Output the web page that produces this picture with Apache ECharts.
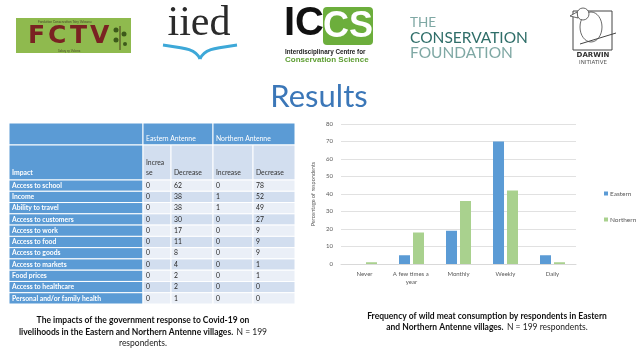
<!DOCTYPE html>
<html><head><meta charset="utf-8">
<script src="https://cdn.jsdelivr.net/npm/echarts@6/dist/echarts.min.js"></script>
<style>html,body{margin:0;padding:0;background:#fff}#c{width:638px;height:359px}</style>
</head><body><div id="c"></div>
<script>
// ---- Bar chart data ----
const categories = ['Never', 'A few times a year', 'Monthly', 'Weekly', 'Daily'];
const eastern = [0, 5, 19, 70, 5];
const northern = [1, 18, 36, 42, 1];
const seriesNames = ['Eastern', 'Northern'];

// ---- Table data ----
const impacts = ['Access to school', 'Income', 'Ability to travel', 'Access to customers', 'Access to work',
  'Access to food', 'Access to goods', 'Access to markets', 'Food prices', 'Access to healthcare',
  'Personal and/or family health'];
const eastIncrease = [0, 0, 0, 0, 0, 0, 0, 0, 0, 0, 0];
const eastDecrease = [62, 38, 38, 30, 17, 11, 8, 4, 2, 2, 1];
const northIncrease = [0, 1, 1, 0, 0, 0, 0, 0, 0, 0, 0];
const northDecrease = [78, 52, 49, 27, 9, 9, 9, 1, 1, 0, 0];
const groupHeaders = ['Eastern Antenne', 'Northern Antenne'];
const colHeaders = ['Impact', 'Increa\nse', 'Decrease', 'Increase', 'Decrease'];

// ---- layout constants ----
const FONT = 'Lato, "Liberation Sans", sans-serif';
const T_LEFT = 9, T_WIDTH = 286;
const colEdges = [0, 134, 162, 204, 244, 286];
const H1_TOP = 123, H1_H = 22, H2_TOP = 145, H2_H = 35;
const BODY_TOP = 180, BODY_H = 124;
const BLUE = '#5B9BD5', DARK = '#D2DEEF', LIGHT = '#EAEFF7';

const chart = echarts.init(document.getElementById('c'));

const headerGraphics = [];
[[0, 1], [1, 3], [3, 5]].forEach(([a, b], k) => {
  headerGraphics.push({type: 'rect', shape: {x: T_LEFT + colEdges[a], y: H1_TOP, width: colEdges[b] - colEdges[a], height: H1_H},
    style: {fill: BLUE, stroke: '#fff', lineWidth: 1}});
  if (k > 0) headerGraphics.push({type: 'text', x: T_LEFT + colEdges[a] + 3, y: H1_TOP + H1_H - 3,
    style: {text: groupHeaders[k - 1], fill: '#fff', font: '6.8px ' + FONT, verticalAlign: 'bottom'}});
});
for (let k = 0; k < 5; k++) {
  headerGraphics.push({type: 'rect', shape: {x: T_LEFT + colEdges[k], y: H2_TOP, width: colEdges[k + 1] - colEdges[k], height: H2_H},
    style: {fill: k === 0 ? BLUE : DARK, stroke: '#fff', lineWidth: 1}});
  headerGraphics.push({type: 'text', x: T_LEFT + colEdges[k] + 3, y: H2_TOP + H2_H - 2,
    style: {text: colHeaders[k], fill: k === 0 ? '#fff' : '#333', font: (k === 0 ? 'bold ' : '') + '6.8px ' + FONT,
      verticalAlign: 'bottom', lineHeight: 10}});
}

const fctvLetters = ['F', 'C', 'T', 'V'];
const fctvX = [28, 48, 70, 90];
const fctv = fctvLetters.map((l, k) => ({type: 'text', x: fctvX[k], y: 36, z: 10,
  style: {text: l, fill: '#7A2222', font: 'bold 25px "DejaVu Sans", sans-serif', verticalAlign: 'middle'}}));

const logos = [
  {type: 'rect', shape: {x: 16, y: 18, width: 115, height: 35}, style: {fill: '#8FBA4E'}},
  {type: 'text', x: 38, y: 20, style: {text: 'Fondation Conservation Tsiry Vakoana', fill: '#4a4a2a', font: '3.2px ' + FONT}},
  {type: 'text', x: 58, y: 49, style: {text: 'Sakay sy Velona', fill: '#4a4a2a', font: '3.2px ' + FONT}},
  {type: 'line', shape: {x1: 120, y1: 50, x2: 120, y2: 26}, style: {stroke: '#4a3a1a', lineWidth: 1}},
  {type: 'circle', shape: {cx: 116, cy: 30, r: 2.5}, style: {fill: '#3d5a1a'}},
  {type: 'circle', shape: {cx: 124, cy: 34, r: 2.5}, style: {fill: '#3d5a1a'}},
  {type: 'circle', shape: {cx: 116, cy: 40, r: 2.5}, style: {fill: '#3d5a1a'}},
  {type: 'circle', shape: {cx: 125, cy: 44, r: 2}, style: {fill: '#3d5a1a'}},
  // iied
  {type: 'text', x: 199, y: 45, style: {text: 'iied', fill: '#2b2b2b', font: '42px "Liberation Serif", serif', align: 'center', verticalAlign: 'bottom'}},
  {type: 'bezierCurve', shape: {x1: 163, y1: 45, cpx1: 185, cpy1: 48, x2: 200, y2: 59, cpx2: 196, cpy2: 49}, style: {stroke: '#3DA8D8', lineWidth: 3, fill: null}},
  {type: 'bezierCurve', shape: {x1: 200, y1: 59, cpx1: 204, cpy1: 49, x2: 237, y2: 45, cpx2: 215, cpy2: 48}, style: {stroke: '#3DA8D8', lineWidth: 3, fill: null}},
  // ICCS
  {type: 'text', x: 284, y: 44, style: {text: 'IC', fill: '#111', font: 'bold 40px "Liberation Sans", sans-serif', verticalAlign: 'bottom'}},
  {type: 'rect', shape: {x: 323, y: 7, width: 50, height: 38, r: 4}, style: {fill: '#6CAE3C'}},
  {type: 'text', x: 348, y: 27, style: {text: 'CS', fill: '#fff', font: 'bold 36px "Liberation Sans", sans-serif', align: 'center', verticalAlign: 'middle'}},
  {type: 'text', x: 285, y: 52, style: {text: 'Interdisciplinary Centre for', fill: '#222', font: 'bold 6.3px "Liberation Sans", sans-serif', verticalAlign: 'middle'}},
  {type: 'text', x: 285, y: 60, style: {text: 'Conservation Science', fill: '#5E9E33', font: 'bold 8px "Liberation Sans", sans-serif', verticalAlign: 'middle'}},
  // The Conservation Foundation
  {type: 'text', x: 410, y: 23, style: {text: 'THE', fill: '#7FA8A4', font: '13.5px ' + FONT, verticalAlign: 'middle'}},
  {type: 'text', x: 410, y: 38, style: {text: 'CONSERVATION', fill: '#2F6E69', font: '15.5px ' + FONT, verticalAlign: 'middle'}},
  {type: 'text', x: 410, y: 53, style: {text: 'FOUNDATION', fill: '#7FA8A4', font: '15.5px ' + FONT, verticalAlign: 'middle'}},
  // Darwin Initiative
  {type: 'rect', shape: {x: 573, y: 11, width: 39, height: 39}, style: {fill: null, stroke: '#444', lineWidth: 1}},
  {type: 'ellipse', shape: {cx: 591, cy: 27, rx: 11, ry: 15}, style: {fill: '#fff', stroke: '#444', lineWidth: 0.8}},
  {type: 'circle', shape: {cx: 583, cy: 14, r: 6}, style: {fill: '#fff', stroke: '#444', lineWidth: 0.8}},
  {type: 'polygon', shape: {points: [[577, 12], [570, 16], [578, 18]]}, style: {fill: '#fff', stroke: '#444', lineWidth: 0.8}},
  {type: 'line', shape: {x1: 580, y1: 44, x2: 616, y2: 33}, style: {stroke: '#444', lineWidth: 1}},
  {type: 'text', x: 593, y: 55, style: {text: 'DARWIN', fill: '#333', font: 'bold 7px "DejaVu Sans", sans-serif', align: 'center', verticalAlign: 'middle'}},
  {type: 'text', x: 593, y: 63, style: {text: 'INITIATIVE', fill: '#555', font: '5.5px "DejaVu Sans", sans-serif', align: 'center', verticalAlign: 'middle'}},
  // Title
  {type: 'text', x: 319, y: 97, style: {text: 'Results', fill: '#3B77B8', font: '31px ' + FONT, align: 'center', verticalAlign: 'middle'}},
  // captions
  {type: 'text', x: 143, y: 332, style: {
    text: '{b|The impacts of the government response to Covid-19 on}\n{b|livelihoods in the Eastern and Northern Antenne villages.} {r|N = 199}\n{r|respondents.}',
    align: 'center', verticalAlign: 'middle', lineHeight: 11.5,
    rich: {b: {font: 'bold 8.5px ' + FONT, fill: '#111', lineHeight: 11.5}, r: {font: '8.5px ' + FONT, fill: '#222', lineHeight: 11.5}}}},
  {type: 'text', x: 487, y: 322, style: {
    text: '{b|Frequency of wild meat consumption by respondents in Eastern}\n{b|and Northern Antenne villages.} {r|N = 199 respondents.}',
    align: 'center', verticalAlign: 'middle', lineHeight: 11.5,
    rich: {b: {font: 'bold 8.5px ' + FONT, fill: '#111', lineHeight: 11.5}, r: {font: '8.5px ' + FONT, fill: '#222', lineHeight: 11.5}}}}
];

function renderRow(params, api) {
  const i = api.value(0);
  const h = api.size([0, 1])[1];
  const cy = api.coord([0, i])[1];
  const y0 = cy - h / 2;
  const vals = [impacts[i], eastIncrease[i], eastDecrease[i], northIncrease[i], northDecrease[i]];
  const children = [];
  for (let k = 0; k < 5; k++) {
    const x0 = api.coord([colEdges[k], i])[0];
    const x1 = api.coord([colEdges[k + 1], i])[0];
    children.push({type: 'rect', shape: {x: x0, y: y0, width: x1 - x0, height: h},
      style: {fill: k === 0 ? BLUE : (i % 2 === 0 ? LIGHT : DARK), stroke: '#fff', lineWidth: 1}});
    children.push({type: 'text', x: x0 + 3, y: cy,
      style: {text: String(vals[k]), fill: k === 0 ? '#fff' : '#262626',
        font: (k === 0 ? 'bold ' : '') + '6.8px ' + FONT, verticalAlign: 'middle'}});
  }
  return {type: 'group', children};
}

chart.setOption({
  animation: false,
  textStyle: {fontFamily: FONT},
  graphic: headerGraphics.concat(logos, fctv),
  legend: {
    orient: 'vertical', left: 604, top: 190, padding: 0, itemWidth: 4, itemHeight: 4, itemGap: 19,
    icon: 'rect', data: seriesNames,
    textStyle: {fontSize: 6.5, color: '#595959', padding: [0, 0, 0, -3]}
  },
  grid: [
    {left: 341, right: 62, top: 124, bottom: 95},
    {left: T_LEFT, top: BODY_TOP, width: T_WIDTH, height: BODY_H}
  ],
  xAxis: [
    {type: 'category', data: categories, gridIndex: 0,
      axisLine: {lineStyle: {color: '#D9D9D9'}}, axisTick: {show: false},
      axisLabel: {fontSize: 6, color: '#595959', margin: 6, width: 42, overflow: 'break', lineHeight: 8, interval: 0}},
    {type: 'value', gridIndex: 1, min: 0, max: T_WIDTH, show: false}
  ],
  yAxis: [
    {type: 'value', gridIndex: 0, min: 0, max: 80, interval: 10,
      name: 'Percentage of respondents', nameLocation: 'middle', nameGap: 25, nameRotate: 90,
      nameTextStyle: {fontSize: 5.5, color: '#595959'},
      axisLabel: {fontSize: 6, color: '#595959', margin: 8},
      splitLine: {lineStyle: {color: '#D9D9D9', width: 0.8}}},
    {type: 'category', gridIndex: 1, data: impacts, inverse: true, show: false}
  ],
  series: [
    {name: seriesNames[0], type: 'bar', data: eastern, itemStyle: {color: '#5B9BD5'}, barWidth: 11, barGap: '27%'},
    {name: seriesNames[1], type: 'bar', data: northern, itemStyle: {color: '#A9D18E'}, barWidth: 11, barGap: '27%'},
    {type: 'custom', xAxisIndex: 1, yAxisIndex: 1, renderItem: renderRow,
      data: impacts.map((_, i) => [i]), encode: {y: 0}, silent: true}
  ]
});
</script></body></html>
